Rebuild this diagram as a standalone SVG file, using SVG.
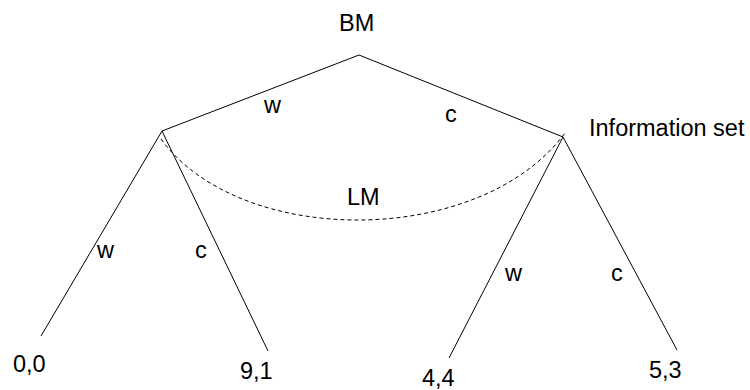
<svg xmlns="http://www.w3.org/2000/svg" width="750" height="390" viewBox="0 0 750 390">
  <style>
    text { font-family: "Liberation Sans", Arial, sans-serif; font-size: 23.5px; fill: #000; }
    .edge { stroke: #000; stroke-width: 1; fill: none; }
    .info { stroke: #000; stroke-width: 1; fill: none; stroke-dasharray: 4 3; }
  </style>
  <rect width="750" height="390" fill="#fff"/>
  <g id="connectors">
    <line class="edge" x1="359" y1="55" x2="162" y2="131"/>
    <line class="edge" x1="359" y1="55" x2="563" y2="137"/>
    <line class="edge" x1="162" y1="131" x2="41" y2="336"/>
    <line class="edge" x1="162" y1="131" x2="268" y2="351"/>
    <line class="edge" x1="563" y1="137" x2="449" y2="358"/>
    <line class="edge" x1="563" y1="137" x2="677" y2="350"/>
    <text x="264" y="113">w</text>
    <text x="445" y="122">c</text>
    <text x="97" y="258">w</text>
    <text x="195" y="258">c</text>
    <text x="505" y="281">w</text>
    <text x="611" y="281">c</text>
  </g>
  <g id="info-set">
    <path class="info" d="M161,139 C240,248 480,248 565,133"/>
    <text x="347" y="205">LM</text>
    <text x="589" y="136">Information set</text>
  </g>
  <g id="node-bm"><text x="339" y="31">BM</text></g>
  <g id="leaf-00"><text x="13" y="372">0,0</text></g>
  <g id="leaf-91"><text x="240" y="379">9,1</text></g>
  <g id="leaf-44"><text x="422" y="386">4,4</text></g>
  <g id="leaf-53"><text x="649" y="378">5,3</text></g>
</svg>
